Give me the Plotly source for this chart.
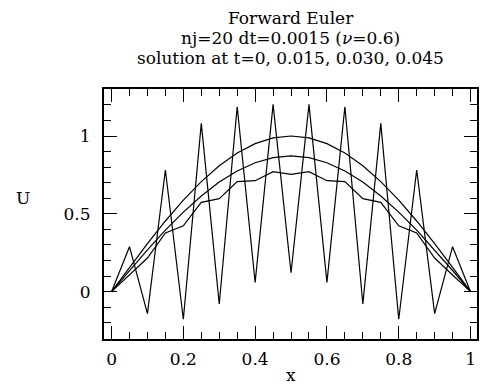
import plotly.graph_objects as go

# grid points
x_vals = [0.00, 0.05, 0.10, 0.15, 0.20, 0.25, 0.30, 0.35, 0.40, 0.45, 0.50,
          0.55, 0.60, 0.65, 0.70, 0.75, 0.80, 0.85, 0.90, 0.95, 1.00]

# solution at t = 0
u_t000 = [0.000, 0.156, 0.309, 0.454, 0.588, 0.707, 0.809, 0.891, 0.951, 0.988, 1.000,
          0.988, 0.951, 0.891, 0.809, 0.707, 0.588, 0.454, 0.309, 0.156, 0.000]
# solution at t = 0.015
u_t015 = [0.000, 0.136, 0.269, 0.395, 0.511, 0.615, 0.704, 0.775, 0.828, 0.861, 0.872,
          0.861, 0.828, 0.775, 0.704, 0.615, 0.511, 0.395, 0.269, 0.136, 0.000]
# solution at t = 0.030
u_t030 = [0.000, 0.107, 0.216, 0.377, 0.423, 0.574, 0.598, 0.707, 0.713, 0.771, 0.754,
          0.771, 0.713, 0.707, 0.598, 0.574, 0.423, 0.377, 0.216, 0.107, 0.000]
# solution at t = 0.045
u_t045 = [0.000, 0.289, -0.141, 0.782, -0.177, 1.081, -0.079, 1.188, 0.060, 1.203, 0.122,
          1.203, 0.060, 1.188, -0.079, 1.081, -0.177, 0.782, -0.141, 0.289, 0.000]

series = [u_t000, u_t015, u_t030, u_t045]

title_lines = ["Forward Euler",
               "nj=20 dt=0.0015 (<i>ν</i>=0.6)",
               "solution at t=0, 0.015, 0.030, 0.045"]

x_ticks = [0, 0.2, 0.4, 0.6, 0.8, 1]
x_ticktext = ["0", "0.2", "0.4", "0.6", "0.8", "1"]
y_ticks = [0, 0.5, 1]
y_ticktext = ["0", "0.5", "1"]

FONT = "DejaVu Serif"

# the page body has an 8px margin; figure is sized to fit exactly in the window
FIG_W, FIG_H = 483, 380
PL, PR, PT, PB = 96, 471.5, 81, 331   # plot area in figure pixels
PW, PH = PR - PL, PB - PT

fig = go.Figure()
for s in series:
    fig.add_trace(go.Scatter(x=x_vals, y=s, mode="lines",
                             line=dict(color="black", width=1.2),
                             showlegend=False, hoverinfo="skip"))

axis_common = dict(
    showline=True, linewidth=2, linecolor="black", mirror="ticks",
    ticks="inside", ticklen=13, tickwidth=1, tickcolor="black",
    showgrid=False, zeroline=False,
    tickfont=dict(family=FONT, size=17, color="black"),
)

fig.update_xaxes(range=[-0.021, 1.018], tickvals=x_ticks, ticktext=x_ticktext,
                 minor=dict(ticks="inside", ticklen=7, tickwidth=1, tickcolor="black",
                            dtick=0.05, tick0=0, showgrid=False),
                 ticklabelstandoff=4, **axis_common)
fig.update_yaxes(range=[-0.304, 1.302], tickvals=y_ticks, ticktext=y_ticktext,
                 minor=dict(ticks="inside", ticklen=7, tickwidth=1, tickcolor="black",
                            dtick=0.1, tick0=0, showgrid=False),
                 ticklabelstandoff=8, **axis_common)

def font(size=17):
    return dict(family=FONT, size=size, color="black")

anns = []
for line, ypix in zip(title_lines, [10, 30, 50]):
    anns.append(dict(text=line, x=0.5, xref="paper",
                     y=(PB - ypix) / PH, yref="paper",
                     xanchor="center", yanchor="middle", showarrow=False,
                     font=font()))
anns.append(dict(text="U", x=(14 - PL) / PW, xref="paper",
                 y=(PB - 190) / PH, yref="paper",
                 xanchor="center", yanchor="middle", showarrow=False,
                 font=font()))
anns.append(dict(text="x", x=0.5, xref="paper",
                 y=(PB - 379) / PH, yref="paper",
                 xanchor="center", yanchor="bottom", showarrow=False,
                 font=font()))

fig.update_layout(
    width=FIG_W, height=FIG_H,
    margin=dict(l=PL, r=FIG_W - PR, t=PT, b=FIG_H - PB),
    paper_bgcolor="white", plot_bgcolor="white",
    annotations=anns,
)

fig.write_html("out.html")
